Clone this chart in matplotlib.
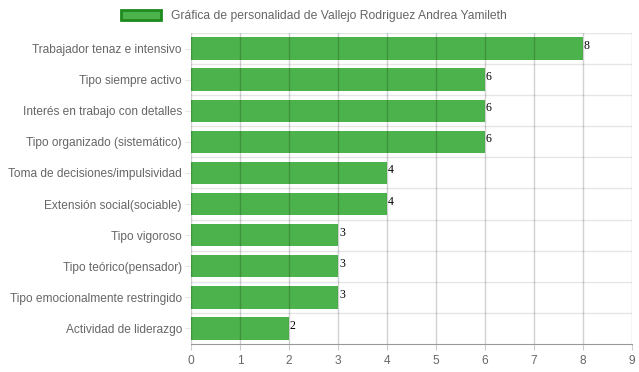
import matplotlib.pyplot as plt
import numpy as np

categories = [
    'Trabajador tenaz e intensivo',
    'Tipo siempre activo',
    'Interés en trabajo con detalles',
    'Tipo organizado (sistemático)',
    'Toma de decisiones/impulsividad',
    'Extensión social(sociable)',
    'Tipo vigoroso',
    'Tipo teórico(pensador)',
    'Tipo emocionalmente restringido',
    'Actividad de liderazgo',
]
values = [8, 6, 6, 6, 4, 4, 3, 3, 3, 2]
legend_label = 'Gráfica de personalidad de Vallejo Rodriguez Andrea Yamileth'

BAR_COLOR = '#4cb34c'
EDGE_COLOR = '#1e8a1e'
TEXT_COLOR = '#666666'

plt.rcParams['font.family'] = ['Liberation Sans', 'DejaVu Sans']

fig = plt.figure(figsize=(6.39, 3.72), dpi=100)
ax = fig.add_axes([191 / 639, 1 - 344 / 372, 441 / 639, 311 / 372])

y = np.arange(len(categories))
ax.barh(y, values, height=0.72, color=BAR_COLOR, zorder=2, label=legend_label)

ax.set_xlim(0, 9)
ax.set_ylim(len(categories) - 0.5, -0.5)
ax.set_xticks(range(10))
ax.set_yticks(y)
ax.set_yticklabels(categories, va='center_baseline')

# horizontal grid between categories (under bars)
for b in np.arange(-0.5, len(categories) - 0.5, 1):
    ax.axhline(b, color='#e6e6e6', lw=1, zorder=1)
# vertical grid over bars
for x in range(10):
    ax.axvline(x, color='black', alpha=0.18, lw=1, zorder=3)

for spine in ['top', 'right', 'left']:
    ax.spines[spine].set_visible(False)
ax.spines['bottom'].set_color('#999999')
ax.tick_params(axis='x', colors=TEXT_COLOR, labelsize=8.6, length=4, color='#cccccc', pad=4)
ax.tick_params(axis='y', colors=TEXT_COLOR, labelsize=8.6, length=4, color='#e6e6e6', pad=2.5)

for yi, v in zip(y, values):
    ax.text(v + 0.02, yi - 0.08, str(v), ha='left', va='center', fontsize=8.5,
            family='Liberation Serif', color='black', zorder=4)

handle = plt.Rectangle((0, 0), 1, 1, facecolor=BAR_COLOR, edgecolor=EDGE_COLOR, lw=2)
fig.legend([handle], [legend_label], loc='upper center', bbox_to_anchor=(0.491, 1.0),
           frameon=False, fontsize=8.7, handlelength=3.3, handleheight=0.9,
           labelcolor=TEXT_COLOR, borderaxespad=0.4)

fig.savefig('out.png', dpi=100)
